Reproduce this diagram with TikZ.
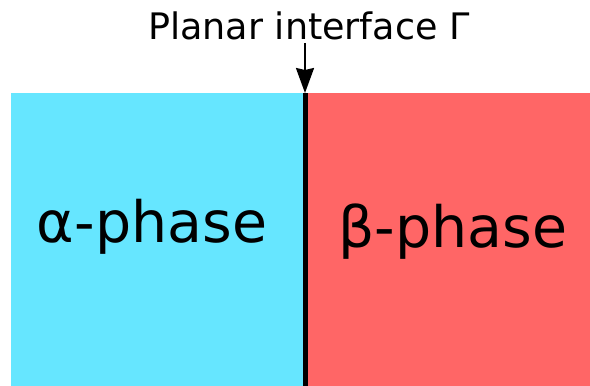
\documentclass[tikz,border=0pt]{standalone}
\usepackage{fontspec}
\setmainfont{DejaVu Sans}
\usetikzlibrary{arrows.meta}
\definecolor{phasecyan}{RGB}{102,230,255}
\definecolor{phasered}{RGB}{255,102,102}
\begin{document}
\begin{tikzpicture}[x=1pt,y=1pt,
  titletext/.style={inner sep=0pt,anchor=base,font=\fontsize{36.5}{40}\selectfont},
  phasetext/.style={inner sep=0pt,anchor=base,font=\fontsize{57}{64}\selectfont},
  interfaceline/.style={line width=5pt,black},
  pointer/.style={line width=2pt,-{Stealth[length=25pt,width=18pt,inset=2pt]}}]
\useasboundingbox (0,0) rectangle (590,386);
\fill[phasecyan] (11,0) rectangle (305,293);
\fill[phasered] (305,0) rectangle (590,293);
\coordinate (itop) at (305,293);
\coordinate (ibot) at (305,0);
\draw[interfaceline] (ibot) -- (itop);
\node[titletext] (title) at (309,346) {Planar interface Γ};
\coordinate (arrstart) at (305,343);
\draw[pointer] (arrstart) -- (itop);
\node[phasetext] (alpha) at (152,143) {α-phase};
\node[phasetext] (beta) at (453,138) {β-phase};
\end{tikzpicture}
\end{document}
